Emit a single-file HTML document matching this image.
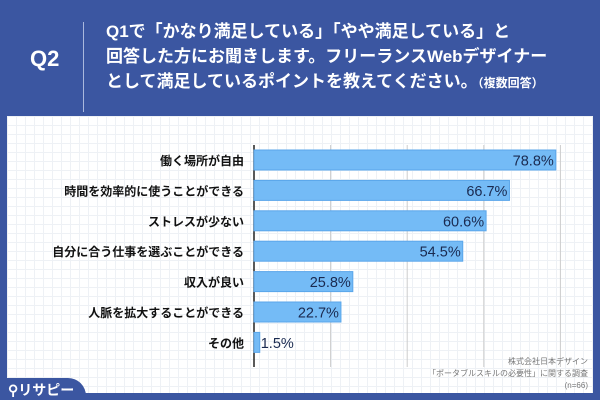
<!DOCTYPE html>
<html><head><meta charset="utf-8"><style>
body{margin:0;width:600px;height:400px;overflow:hidden;background:#3b56a1;font-family:"Liberation Sans","Noto Sans CJK JP",sans-serif;position:relative}
.t{position:absolute;color:#fff;font-weight:bold}
</style></head><body>
<div class="t" style="left:30px;top:46px;font-size:22px">Q2</div>
<div style="position:absolute;left:83px;top:22px;width:1px;height:90px;background:#aab8dd"></div>
<div class="t" style="left:106px;top:19px;font-size:17px;line-height:25px;white-space:nowrap">Q1で「かなり満足している」「やや満足している」と<br>回答した方にお聞きします。フリーランスWebデザイナー<br>として満足しているポイントを教えてください。<span style="font-size:12px">（複数回答）</span></div>
<div style="position:absolute;left:7px;top:116px;width:586px;height:277px;background:#fff;background-image:linear-gradient(#eef1f5 1px,transparent 1px),linear-gradient(90deg,#eef1f5 1px,transparent 1px);background-size:9px 9px"></div>
<svg id="c" width="600" height="400" style="position:absolute;left:0;top:0"></svg>
<div style="position:absolute;right:12px;top:356px;font-size:8px;line-height:12px;color:#777;text-align:right">株式会社日本デザイン<br>「ポータブルスキルの必要性」に関する調査<br>(n=66)</div>
<div style="position:absolute;left:0;top:378px;width:86px;height:22px;background:#3b56a1;border-top-right-radius:18px"></div>
<div class="t" style="left:8px;top:380px;font-size:14px">⚲リサピー</div>
<script>
const categories=["働く場所が自由","時間を効率的に使うことができる","ストレスが少ない","自分に合う仕事を選ぶことができる","収入が良い","人脈を拡大することができる","その他"];
const values=[78.8,66.7,60.6,54.5,25.8,22.7,1.5];
const ticks=[0,20,40,60,80];
const svg=document.getElementById('c');const NS='http://www.w3.org/2000/svg';
const x0=254,pxPer=3.83,y0=160,step=30.4,bh=20;
const xs=v=>x0+v*pxPer, ys=i=>y0+i*step;
function mk(t,a){const e=document.createElementNS(NS,t);for(const k in a)e.setAttribute(k,a[k]);svg.appendChild(e);return e;}
ticks.forEach(t=>{const l=mk('line',{x1:xs(t),x2:xs(t),y1:145,y2:367,stroke:t?'#ccc':'#222','stroke-width':t?1:1.5});

});
categories.forEach((c,i)=>{
const r=mk('rect',{x:xs(0),y:ys(i)-bh/2,width:xs(values[i])-xs(0),height:bh,fill:'#74bbf6',stroke:'#5aa6ea'});


const lb=mk('text',{x:244,y:ys(i)+5,'text-anchor':'end','font-size':12,'font-weight':'bold',fill:'#111'});lb.textContent=c;


const big=values[i]>10;
const v=mk('text',{x:big?xs(values[i])-2:xs(values[i])+1,y:ys(i)+5.5,'text-anchor':big?'end':'start','font-size':14.5,fill:'#1a2a50'});v.textContent=values[i].toFixed(1)+'%';


});
</script>
</body></html>
